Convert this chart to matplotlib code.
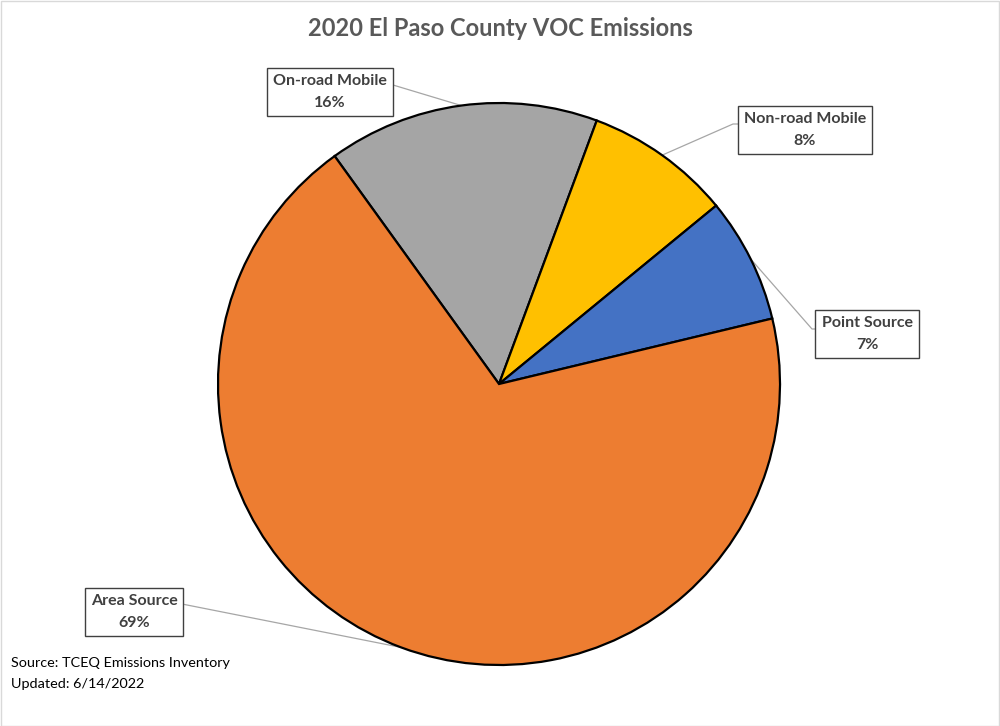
import numpy as np
import matplotlib.pyplot as plt
from matplotlib.patches import Rectangle

# data (degrees -> percent)
categories = ["On-road Mobile", "Non-road Mobile", "Point Source", "Area Source"]
shares = [15.6, 8.4, 7.2, 68.8]
colors = ["#A5A5A5", "#FFC000", "#4472C4", "#ED7D31"]

W, H = 1000, 726
cx, cy, R = 499, 384, 281       # pie center / radius in pixels (top-left origin)
start = 125.8

# label box centers (pixels, top-left origin)
label_pos = {
    "On-road Mobile": (330, 92),
    "Non-road Mobile": (805, 130),
    "Point Source": (867, 334),
    "Area Source": (134, 612),
}
# where the leader line meets the box
leader_end = {
    "On-road Mobile": [(393, 85)],
    "Non-road Mobile": [(733, 124), (738, 124)],
    "Point Source": [(812, 329), (817, 329)],
    "Area Source": [(182, 604)],
}

plt.rcParams['font.family'] = ['Lato', 'DejaVu Sans']

fig = plt.figure(figsize=(W / 100, H / 100), dpi=100)
ax = fig.add_axes([0, 0, 1, 1])

wedges, _ = ax.pie(shares, colors=colors, startangle=start, counterclock=False,
                   center=(cx, H - cy), radius=R,
                   wedgeprops=dict(edgecolor="black", linewidth=1.6))
ax.set_xlim(0, W)
ax.set_ylim(0, H)
ax.set_aspect('equal')
ax.axis('off')

for w, name, val in zip(wedges, categories, shares):
    mid = np.deg2rad((w.theta1 + w.theta2) / 2)
    x0 = cx + R * np.cos(mid)
    y0 = (H - cy) + R * np.sin(mid)
    pts = [(x0, y0)] + [(x, H - y) for x, y in leader_end[name]]
    xs, ys = zip(*pts)
    ax.plot(xs, ys, color="#A6A6A6", lw=0.9, zorder=0.5)
    lx, ly = label_pos[name]
    ax.text(lx, H - ly, f"{name}\n{round(val):.0f}%", ha="center", va="center",
            fontsize=11.5, fontweight="bold", color="#404040", linespacing=1.7,
            bbox=dict(boxstyle="square,pad=0.38", fc="white", ec="#404040", lw=1))

fig.text(0.5, 1 - 29 / H, "2020 El Paso County VOC Emissions", ha="center", va="center",
         fontsize=17, fontweight="bold", color="#595959")
fig.text(11 / W, 1 - 663 / H, "Source: TCEQ Emissions Inventory", ha="left", va="center",
         fontsize=10.4, color="black")
fig.text(11 / W, 1 - 684 / H, "Updated: 6/14/2022", ha="left", va="center",
         fontsize=10.4, color="black")

fig.patches.append(Rectangle((0.5 / W, 0.5 / H), 1 - 1.5 / W, 1 - 1.5 / H,
                             transform=fig.transFigure, fill=False, ec="#D9D9D9", lw=1))

fig.savefig("out.png", dpi=100)
